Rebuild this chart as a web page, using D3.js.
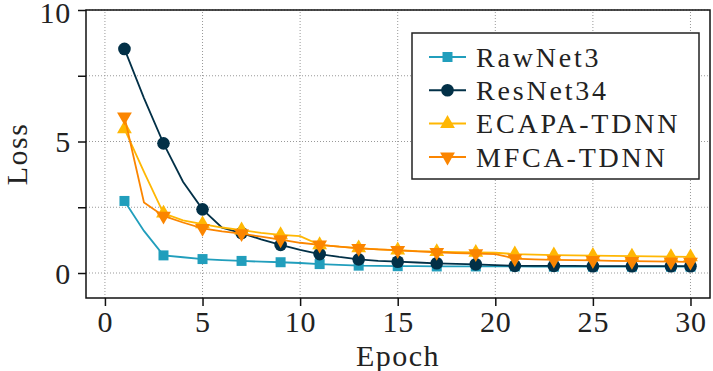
<!DOCTYPE html>
<html>
<head>
<meta charset="utf-8">
<script src="https://cdn.jsdelivr.net/npm/d3@7"></script>
<style>
  body { margin: 0; background: #fff; }
</style>
</head>
<body>
<div id="chart"></div>
<script>
// epochs and loss values
var epochs = d3.range(1, 31);
var markerEpochs = [1, 3, 5, 7, 9, 11, 13, 15, 17, 19, 21, 23, 25, 27, 29, 30];

var rawnet3 = [2.74, 1.6, 0.67, 0.6, 0.53, 0.49, 0.46, 0.43, 0.41, 0.38, 0.34, 0.31, 0.28, 0.27, 0.26,
               0.26, 0.25, 0.25, 0.25, 0.25, 0.25, 0.24, 0.24, 0.24, 0.24, 0.24, 0.24, 0.24, 0.24, 0.24];
var resnet34 = [8.52, 6.65, 4.93, 3.47, 2.42, 1.72, 1.52, 1.28, 1.07, 0.88, 0.72, 0.61, 0.52, 0.46, 0.43,
                0.4, 0.37, 0.35, 0.33, 0.3, 0.27, 0.27, 0.27, 0.27, 0.26, 0.26, 0.26, 0.26, 0.26, 0.26];
var ecapa = [5.48, 3.85, 2.27, 2.0, 1.86, 1.73, 1.63, 1.53, 1.45, 1.4, 1.07, 1.0, 0.95, 0.9, 0.87,
             0.83, 0.81, 0.79, 0.78, 0.77, 0.72, 0.7, 0.68, 0.67, 0.66, 0.65, 0.64, 0.63, 0.62, 0.61];
var mfca = [5.94, 2.68, 2.17, 1.92, 1.7, 1.58, 1.5, 1.38, 1.27, 1.15, 1.07, 1.0, 0.94, 0.9, 0.86,
            0.82, 0.79, 0.76, 0.74, 0.72, 0.55, 0.52, 0.5, 0.49, 0.48, 0.46, 0.45, 0.44, 0.43, 0.42];

var seriesNames = ["RawNet3", "ResNet34", "ECAPA-TDNN", "MFCA-TDNN"];
var seriesColors = ["#219ebc", "#023047", "#ffb703", "#fb8500"];
var xTicks = [0, 5, 10, 15, 20, 25, 30];
var yTicks = [0, 2.5, 5, 7.5, 10];
var yTickLabels = ["0", "", "5", "", "10"];

var FONT = "'Liberation Serif'";
var width = 713, height = 371;
var margin = { top: 10, right: 3, bottom: 73, left: 86 };

var svg = d3.select("#chart").append("svg")
    .attr("width", width)
    .attr("height", height);

var x = d3.scaleLinear().domain([-0.97, 31]).range([margin.left, width - margin.right]);
var y = d3.scaleLinear().domain([-0.95, 10]).range([height - margin.bottom, margin.top]);

// grid (tockasto)
svg.append("g").selectAll("line")
    .data(xTicks).enter().append("line")
    .attr("x1", d => x(d)).attr("x2", d => x(d))
    .attr("y1", y.range()[0]).attr("y2", y.range()[1])
    .attr("stroke", "#999").attr("stroke-width", 1).attr("stroke-dasharray", "1,2");
svg.append("g").selectAll("line")
    .data(yTicks).enter().append("line")
    .attr("x1", x.range()[0]).attr("x2", x.range()[1])
    .attr("y1", d => y(d)).attr("y2", d => y(d))
    .attr("stroke", "#999").attr("stroke-width", 1).attr("stroke-dasharray", "1,2");

// axes
var xAxis = svg.append("g")
    .attr("transform", "translate(0," + y.range()[0] + ")")
    .call(d3.axisBottom(x).tickValues(xTicks).tickSize(8).tickPadding(5));
var yAxis = svg.append("g")
    .attr("transform", "translate(" + x.range()[0] + ",0)")
    .call(d3.axisLeft(y).tickValues(yTicks).tickSize(8).tickPadding(7)
        .tickFormat((d, i) => yTickLabels[i]));
[xAxis, yAxis].forEach(function (g) {
    g.attr("font-family", null).attr("font-size", null);
    g.select(".domain").remove();
    g.selectAll("line").attr("stroke", "#111").attr("stroke-width", 1.5);
    g.selectAll("text")
        .style("font-family", FONT)
        .style("font-size", "30px")
        .style("letter-spacing", "0.8px")
        .attr("fill", "#222");
});
xAxis.selectAll("text").attr("dy", "0.7em");
yAxis.selectAll("text").attr("dy", "0.34em");
yAxis.selectAll(".tick").filter(d => d === 10).select("text").attr("dy", "0.4em");

// frame
svg.append("rect")
    .attr("x", x.range()[0]).attr("y", y.range()[1])
    .attr("width", x.range()[1] - x.range()[0])
    .attr("height", y.range()[0] - y.range()[1])
    .attr("fill", "none").attr("stroke", "#111").attr("stroke-width", 1.5);

// axis titles
svg.append("text")
    .attr("x", (x.range()[0] + x.range()[1]) / 2)
    .attr("y", 366)
    .attr("text-anchor", "middle")
    .attr("fill", "#222")
    .style("font-family", FONT)
    .style("font-size", "30px")
    .style("letter-spacing", "1.5px")
    .text("Epoch");
svg.append("text")
    .attr("transform", "translate(27," + (y.range()[0] + y.range()[1]) / 2 + ") rotate(-90)")
    .attr("text-anchor", "middle")
    .attr("fill", "#222")
    .style("font-family", FONT)
    .style("font-size", "30px")
    .style("letter-spacing", "1.5px")
    .text("Loss");

var allSeries = [rawnet3, resnet34, ecapa, mfca];
var symbols = [
    d3.symbol().type(d3.symbolSquare).size(100),
    d3.symbol().type(d3.symbolCircle).size(125),
    d3.symbol().type(d3.symbolTriangle).size(95),
    d3.symbol().type(d3.symbolTriangle).size(95)
];
var rotations = [0, 0, 0, 180];

var line = d3.line()
    .x(d => x(d[0]))
    .y(d => y(d[1]));

allSeries.forEach(function (vals, i) {
    var pts = epochs.map((e, j) => [e, vals[j]]);
    svg.append("path")
        .datum(pts)
        .attr("d", line)
        .attr("fill", "none")
        .attr("stroke", seriesColors[i])
        .attr("stroke-width", 1.8);
    svg.append("g").selectAll("path")
        .data(pts.filter(p => markerEpochs.indexOf(p[0]) >= 0))
        .enter().append("path")
        .attr("d", symbols[i])
        .attr("transform", d => "translate(" + x(d[0]) + "," + y(d[1]) + ") rotate(" + rotations[i] + ")")
        .attr("fill", seriesColors[i]);
});

// legend
var legend = svg.append("g").attr("transform", "translate(412,33)");
legend.append("rect")
    .attr("width", 287).attr("height", 146)
    .attr("fill", "#fff").attr("stroke", "#222").attr("stroke-width", 1.5);
seriesNames.forEach(function (name, i) {
    var ry = 24 + i * 33.3;
    legend.append("line")
        .attr("x1", 17).attr("x2", 54).attr("y1", ry).attr("y2", ry)
        .attr("stroke", seriesColors[i]).attr("stroke-width", 2);
    legend.append("path")
        .attr("d", symbols[i])
        .attr("transform", "translate(35.5," + ry + ") rotate(" + rotations[i] + ")")
        .attr("fill", seriesColors[i]);
    legend.append("text")
        .attr("x", 64).attr("y", ry)
        .attr("dy", "0.35em")
        .attr("fill", "#222")
        .style("font-family", FONT)
        .style("font-size", "28px")
        .style("letter-spacing", "2.8px")
        .text(name);
});
</script>
</body>
</html>
